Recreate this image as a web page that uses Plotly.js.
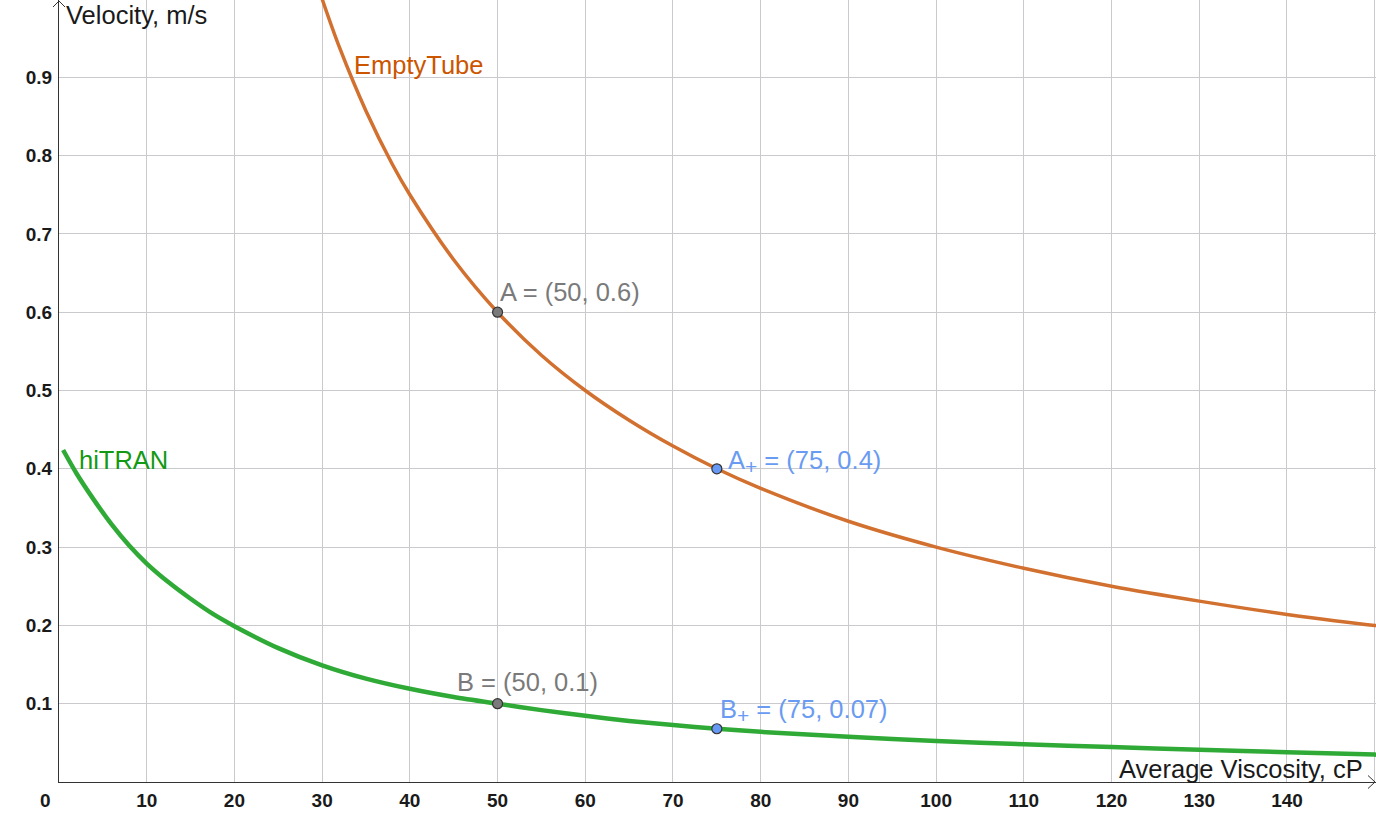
<!DOCTYPE html>
<html>
<head>
<meta charset="utf-8">
<script src="https://cdn.plot.ly/plotly-3.0.1.min.js"></script>
<style>
html,body{margin:0;padding:0;background:#fff;}
#chart{width:1376px;height:820px;}
</style>
</head>
<body>
<div id="chart"></div>
<script>
// Data
var emptyTubeX = [29.5, 30, 32, 35, 38, 40, 45, 50, 55, 60, 65, 70, 75, 80, 90, 100, 110, 120, 130, 140, 150, 151];
var emptyTubeY = [1.017, 1.0, 0.9375, 0.857, 0.789, 0.75, 0.667, 0.6, 0.545, 0.5, 0.462, 0.429, 0.4, 0.375, 0.333, 0.3, 0.273, 0.25, 0.231, 0.214, 0.2, 0.199];

var hiTranX = [0.47, 2, 4, 6, 8, 10, 12.5, 15, 17.5, 20, 25, 30, 35, 40, 45, 50, 55, 60, 65, 70, 75, 80, 90, 100, 110, 120, 130, 140, 150, 151];
var hiTranY = [0.424, 0.394, 0.360, 0.329, 0.302, 0.279, 0.255, 0.234, 0.215, 0.199, 0.171, 0.149, 0.132, 0.119, 0.1085, 0.1, 0.0918, 0.0845, 0.078, 0.0727, 0.068, 0.0641, 0.0577, 0.0525, 0.0482, 0.0446, 0.0413, 0.0381, 0.0350, 0.0347];

var pointNames = ['A', 'A<sub><span style="font-size:21px">+</span></sub>', 'B', 'B<sub><span style="font-size:21px">+</span></sub>'];
var pointX = [50, 75, 50, 75];
var pointY = [0.6, 0.4, 0.1, 0.068];
var pointLabelY = ['0.6', '0.4', '0.1', '0.07'];

var xTickVals = [10, 20, 30, 40, 50, 60, 70, 80, 90, 100, 110, 120, 130, 140, 150];
var xTickText = ['10', '20', '30', '40', '50', '60', '70', '80', '90', '100', '110', '120', '130', '140', ''];
var yTickVals = [0.1, 0.2, 0.3, 0.4, 0.5, 0.6, 0.7, 0.8, 0.9];
var yTickText = ['0.1', '0.2', '0.3', '0.4', '0.5', '0.6', '0.7', '0.8', '0.9'];

var seriesNames = ['EmptyTube', 'hiTRAN'];
var xAxisTitle = 'Average Viscosity, cP';
var yAxisTitle = 'Velocity, m/s';

// Styles
var orange = '#D2702F', orangeText = '#CC5500';
var green = '#30AA36', greenText = '#139913';
var grayPt = '#7A7A7A', bluePt = '#6699F5';
var grayText = '#7A7A7A', blueText = '#6A9BF2';
var FONT = '"Liberation Sans", Arial, sans-serif';
var LBL = 25.5;
var PW = 1317, PH = 782; // plot area size in px

var traces = [
  {x: emptyTubeX, y: emptyTubeY, mode: 'lines', line: {color: orange, width: 3.5, shape: 'spline', smoothing: 1}, name: seriesNames[0], hoverinfo: 'skip'},
  {x: hiTranX, y: hiTranY, mode: 'lines', line: {color: green, width: 4.5, shape: 'spline', smoothing: 0.8}, name: seriesNames[1], hoverinfo: 'skip'},
  {x: pointX, y: pointY, mode: 'markers', cliponaxis: false,
   marker: {size: 10, color: [grayPt, bluePt, grayPt, bluePt], line: {color: '#333', width: 1.2}}, hoverinfo: 'skip'}
];

var labelShifts = [[0, 20], [9, 7], [-43, 22], [1, 18]];
var labelColors = [grayText, blueText, grayText, blueText];
var annotations = [];
for (var i = 0; i < pointNames.length; i++) {
  annotations.push({
    x: pointX[i], y: pointY[i], xref: 'x', yref: 'y',
    text: pointNames[i] + ' = (' + pointX[i] + ', ' + pointLabelY[i] + ')',
    showarrow: false, xanchor: 'left', yanchor: 'middle',
    xshift: labelShifts[i][0], yshift: labelShifts[i][1],
    font: {family: FONT, size: LBL, color: labelColors[i]}
  });
}
annotations.push({x: 33.4, y: 0.9153, xref: 'x', yref: 'y', text: seriesNames[0], showarrow: false,
  xanchor: 'left', yanchor: 'middle', font: {family: FONT, size: LBL, color: orangeText}});
annotations.push({x: 2.1, y: 0.4109, xref: 'x', yref: 'y', text: seriesNames[1], showarrow: false,
  xanchor: 'left', yanchor: 'middle', font: {family: FONT, size: LBL, color: greenText}});
annotations.push({x: 0.55, y: 0.9796, xref: 'x', yref: 'y', text: yAxisTitle, showarrow: false,
  xanchor: 'left', yanchor: 'middle', font: {family: FONT, size: LBL, color: '#1a1a1a'}});
annotations.push({x: 148.9, y: 0.017, xref: 'x', yref: 'y', text: xAxisTitle, showarrow: false,
  xanchor: 'right', yanchor: 'middle', font: {family: FONT, size: LBL, color: '#1a1a1a'}});
annotations.push({x: 0, y: 0, xref: 'x', yref: 'y', text: '<b>0</b>', showarrow: false,
  xanchor: 'center', yanchor: 'middle', xshift: -14, yshift: -18,
  font: {family: FONT, size: 19, color: '#1a1a1a'}});

var axisArrow = {color: '#333', width: 1};
var layout = {
  width: 1376, height: 820,
  margin: {l: 59, r: 0, t: 0, b: 38, pad: 0},
  paper_bgcolor: '#fff', plot_bgcolor: '#fff',
  showlegend: false,
  font: {family: FONT},
  xaxis: {
    range: [0, 150.15], tickmode: 'array', tickvals: xTickVals, ticktext: xTickText,
    showgrid: true, gridcolor: '#CACACE', gridwidth: 1,
    zeroline: false, showline: true, linecolor: '#333', linewidth: 1,
    ticks: '', ticklabelstandoff: 1,
    tickfont: {family: FONT, size: 19, color: '#1a1a1a', weight: 'bold'},
    fixedrange: true
  },
  yaxis: {
    range: [0, 0.9987], tickmode: 'array', tickvals: yTickVals, ticktext: yTickText,
    showgrid: true, gridcolor: '#CACACE', gridwidth: 1,
    zeroline: false, showline: true, linecolor: '#333', linewidth: 1,
    ticks: '', ticklabelstandoff: 2,
    tickfont: {family: FONT, size: 19, color: '#1a1a1a', weight: 'bold'},
    fixedrange: true
  },
  annotations: annotations,
  shapes: [
    {type: 'line', xref: 'paper', yref: 'paper', x0: 1 - 8 / PW, y0: 6.5 / PH, x1: 1 - 1 / PW, y1: 0, line: axisArrow},
    {type: 'line', xref: 'paper', yref: 'paper', x0: 1 - 8 / PW, y0: -6.5 / PH, x1: 1 - 1 / PW, y1: 0, line: axisArrow},
    {type: 'line', xref: 'paper', yref: 'paper', x0: -6 / PW, y0: 1 - 7 / PH, x1: 0, y1: 1 - 1 / PH, line: axisArrow},
    {type: 'line', xref: 'paper', yref: 'paper', x0: 6 / PW, y0: 1 - 7 / PH, x1: 0, y1: 1 - 1 / PH, line: axisArrow}
  ]
};

Plotly.newPlot('chart', traces, layout, {staticPlot: true, displayModeBar: false});
</script>
</body>
</html>
